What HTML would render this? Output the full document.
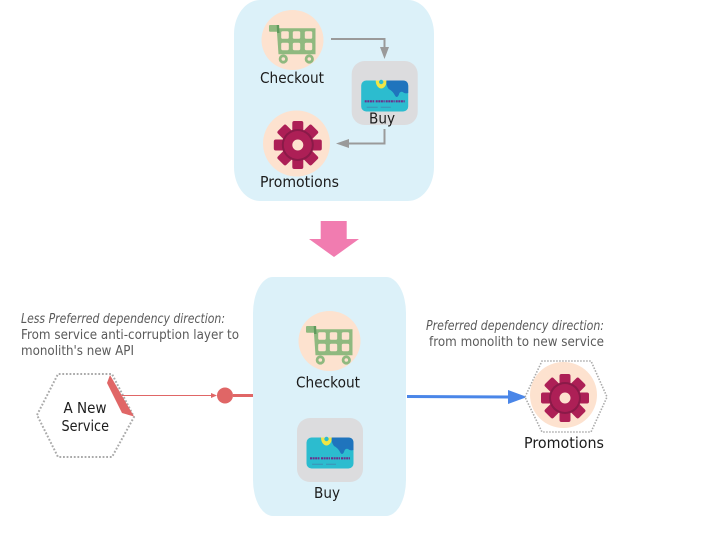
<!DOCTYPE html>
<html>
<head>
<meta charset="utf-8">
<style>
html,body{margin:0;padding:0;background:#fff;width:720px;height:540px;overflow:hidden}
svg{display:block}
text{font-family:"DejaVu Sans","Liberation Sans",sans-serif}
.l{font-size:15.5px;fill:#1c1c1c}
.s{font-size:13px;fill:#5a5a5a}
.i{font-style:italic}
</style>
</head>
<body>
<svg width="720" height="540" viewBox="0 0 720 540" xmlns="http://www.w3.org/2000/svg">
<defs>
<g id="cart">
  <ellipse cx="0" cy="0" rx="31" ry="30" fill="#fde2cf"/>
  <rect x="-23.5" y="-15" width="9" height="6.7" rx="1" fill="#8fb97f"/>
  <path d="M-15.8 -11.7H23V14.2H-14Z" fill="#8fb97f"/>
  <path d="M-15.8 -15H-13.4L-13 -7H-15.4Z" fill="#5f9a5c"/>
  <g fill="#fde2cf">
    <rect x="-11.3" y="-8.8" width="7.6" height="7.6" rx="1.4"/>
    <rect x="0.3" y="-8.8" width="7.4" height="7.6" rx="1.4"/>
    <rect x="12.3" y="-8.8" width="7.4" height="7.6" rx="1.4"/>
    <rect x="-11.3" y="2.8" width="7.6" height="7.4" rx="1.4"/>
    <rect x="0.3" y="2.8" width="7.4" height="7.4" rx="1.4"/>
    <rect x="12.3" y="2.8" width="7.4" height="7.4" rx="1.4"/>
  </g>
  <circle cx="-9.2" cy="19" r="3.2" fill="#fde2cf" stroke="#8fb97f" stroke-width="2.8"/>
  <circle cx="16.8" cy="19" r="3.2" fill="#fde2cf" stroke="#8fb97f" stroke-width="2.8"/>
</g>
<g id="gear">
  <g fill="#ad1f56">
    <rect x="-5.5" y="-24" width="11" height="13" rx="2"/><rect x="-5.5" y="11" width="11" height="13" rx="2"/><rect x="-24" y="-5.5" width="13" height="11" rx="2"/><rect x="11" y="-5.5" width="13" height="11" rx="2"/>
    <g transform="rotate(45)"><rect x="-6" y="-24" width="12" height="13" rx="2"/><rect x="-6" y="11" width="12" height="13" rx="2"/><rect x="-24" y="-6" width="13" height="12" rx="2"/><rect x="11" y="-6" width="13" height="12" rx="2"/></g>
  </g>
  <circle r="16" fill="#8a1a48"/>
  <circle r="14" fill="#ad1f56"/>
  <circle r="5.5" fill="#fde2cf"/>
</g>
<g id="card">
  <rect x="-33" y="-32" width="66" height="64" rx="13" fill="#dcdcde"/>
  <rect x="-23.5" y="-12.5" width="47" height="31" rx="5" fill="#2cbccf"/>
  <path d="M-9 -12.5A5.5 8 0 0 0 2 -12.5Z" fill="#f2e545"/>
  <circle cx="-3.5" cy="-11" r="2.2" fill="#2cbccf"/>
  <path d="M1.7 -12.5H18Q23.5 -12.5 23.5 -7V0Q20 1 18 -1Q15 -2 14 2Q12 6 10 2Q8 -2 4 -4Q1 -8 1.7 -12.5Z" fill="#1f74bd"/>
  <path d="M-20 8.3H-10.5M-9 8.3H0M1 8.3H10M11 8.3H20" stroke="#6b2f8c" stroke-width="2.2" stroke-dasharray="2 .6"/>
  <path d="M-18 14.3H-7M-4 14.3H6" stroke="#3f8fb5" stroke-width="1"/>
</g>
</defs>

<!-- top container -->
<rect x="234" y="0" width="200" height="201" rx="26" ry="34" fill="#dcf1f9"/>
<use href="#cart" x="292.5" y="40"/>
<text class="l" x="260" y="83" textLength="64" lengthAdjust="spacingAndGlyphs">Checkout</text>
<use href="#card" x="384.7" y="93"/>
<text class="l" x="369" y="123.5" textLength="26" lengthAdjust="spacingAndGlyphs">Buy</text>
<ellipse cx="296.5" cy="143.5" rx="33.5" ry="33" fill="#fde2cf"/>
<use href="#gear" x="297.8" y="145"/>
<text class="l" x="260" y="187" textLength="79" lengthAdjust="spacingAndGlyphs">Promotions</text>

<!-- gray arrows -->
<path d="M331 39H384.5V48" fill="none" stroke="#9a9a9a" stroke-width="2"/>
<path d="M380 47H389L384.5 59Z" fill="#9a9a9a"/>
<path d="M384.5 129V143.5H348" fill="none" stroke="#9a9a9a" stroke-width="2"/>
<path d="M336 143.5L349 139V148Z" fill="#9a9a9a"/>

<!-- pink arrow -->
<path d="M320.7 221H346.7V239H359L334 257L309 239H320.7Z" fill="#f17cb0"/>

<!-- bottom container -->
<rect x="253" y="277" width="153" height="239" rx="20" ry="36" fill="#dcf1f9"/>
<use href="#cart" x="329.5" y="341"/>
<text class="l" x="296" y="387.5" textLength="64" lengthAdjust="spacingAndGlyphs">Checkout</text>
<use href="#card" x="330" y="450"/>
<text class="l" x="314" y="498" textLength="26" lengthAdjust="spacingAndGlyphs">Buy</text>

<!-- left text -->
<text class="s i" x="21" y="323" textLength="204" lengthAdjust="spacingAndGlyphs">Less Preferred dependency direction:</text>
<text class="s" x="21" y="339" textLength="218" lengthAdjust="spacingAndGlyphs">From service anti-corruption layer to</text>
<text class="s" x="21" y="355" textLength="113" lengthAdjust="spacingAndGlyphs">monolith's new API</text>

<!-- left hexagon -->
<path d="M37 415L58 374H112L134 417L112 457H58Z" fill="#fff" stroke="#aaa" stroke-width="2" stroke-dasharray="1.8 1.8"/>
<text class="l" x="63.5" y="413" textLength="43" lengthAdjust="spacingAndGlyphs">A New</text>
<text class="l" x="61.5" y="431" textLength="47.5" lengthAdjust="spacingAndGlyphs">Service</text>
<path d="M110 375L134 416.5L122 413L107 383Z" fill="#e06666"/>
<path d="M122 395.5H212" stroke="#e06666" stroke-width="1"/>
<path d="M217 395.5L211 393V398Z" fill="#e06666"/>
<circle cx="225" cy="395.5" r="8" fill="#e06666"/>
<path d="M233 395.5H253" stroke="#e06666" stroke-width="3"/>

<!-- right -->
<text class="s i" x="426" y="330" textLength="178" lengthAdjust="spacingAndGlyphs">Preferred dependency direction:</text>
<text class="s" x="429" y="346" textLength="175" lengthAdjust="spacingAndGlyphs">from monolith to new service</text>
<path d="M407 396.5L510 397" stroke="#4a86e8" stroke-width="3"/>
<path d="M508 390L527 397L508 404Z" fill="#4a86e8"/>
<path d="M525 397L542 361H591L607 397L591 432H542Z" fill="#fff" stroke="#aaa" stroke-width="1.6" stroke-dasharray="1.5 1.5"/>
<ellipse cx="563.5" cy="395" rx="33.5" ry="33" fill="#fde2cf"/>
<use href="#gear" x="565" y="398"/>
<text class="l" x="524" y="448" textLength="80" lengthAdjust="spacingAndGlyphs">Promotions</text>
</svg>
</body>
</html>
